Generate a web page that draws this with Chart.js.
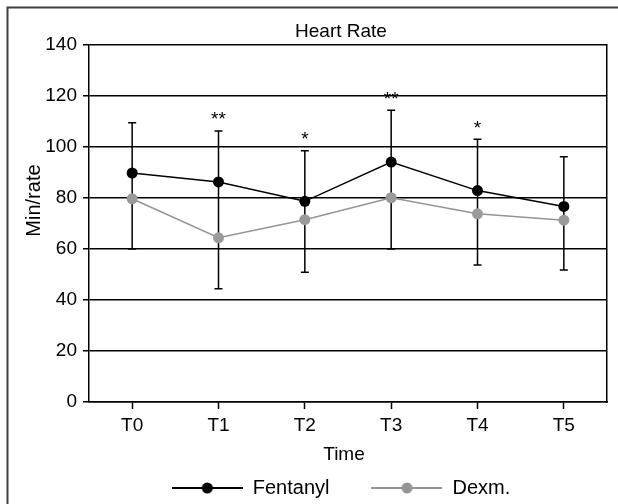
<!DOCTYPE html>
<html lang="en">
  <head>
    <meta charset="UTF-8" />
    <title>Heart Rate</title>
    <script src="https://cdn.jsdelivr.net/npm/chart.js"></script>
    <style>
      html, body { margin: 0; padding: 0; background: #fff; }
      #grafico { display: block; }
    </style>
  </head>
  <body>
    <canvas id="grafico" width="618" height="504"></canvas>

    <script>
      // dados
      const tempos = ["T0", "T1", "T2", "T3", "T4", "T5"];
      const fentanyl = [89.8, 86.3, 78.7, 94.1, 82.9, 76.7];
      const dexm = [79.7, 64.4, 71.5, 80.1, 73.8, 71.3];
      const erroAlto = [109.5, 106.3, 98.5, 114.4, 103, 96.2];
      const erroBaixo = [60, 44.4, 50.9, 60, 53.7, 51.8];
      const significancia = ["", "**", "*", "**", "*", ""];
      const ticksY = [0, 20, 40, 60, 80, 100, 120, 140];

      const fonte = "'Liberation Sans', Arial, sans-serif";
      Chart.defaults.font.family = fonte;
      Chart.defaults.color = "#000";

      // simbolo da legenda: linha com bolinha no meio
      function marcador(cor) {
        const c = document.createElement("canvas");
        c.width = 71;
        c.height = 14;
        const g = c.getContext("2d");
        g.strokeStyle = cor;
        g.lineWidth = 2;
        g.beginPath();
        g.moveTo(0, 7);
        g.lineTo(71, 7);
        g.stroke();
        g.fillStyle = cor;
        g.beginPath();
        g.arc(35.5, 7, 5.5, 0, Math.PI * 2);
        g.fill();
        return c;
      }
      const marcadores = [marcador("#000"), marcador("#949494")];

      const extras = {
        id: "extras",
        beforeDraw(chart) {
          // moldura da figura (so em cima e a esquerda)
          const ctx = chart.ctx;
          ctx.save();
          ctx.strokeStyle = "#404040";
          ctx.lineWidth = 2;
          ctx.beginPath();
          ctx.moveTo(7.5, 504);
          ctx.lineTo(7.5, 7.5);
          ctx.lineTo(618, 7.5);
          ctx.stroke();
          ctx.restore();
        },
        beforeDatasetsDraw(chart) {
          // barras de erro
          const ctx = chart.ctx;
          const x = chart.scales.x;
          const y = chart.scales.y;
          ctx.save();
          ctx.strokeStyle = "#000";
          ctx.lineWidth = 1.5;
          for (let i = 0; i < tempos.length; i++) {
            const px = x.getPixelForValue(i);
            const yA = y.getPixelForValue(erroAlto[i]);
            const yB = y.getPixelForValue(erroBaixo[i]);
            ctx.beginPath();
            ctx.moveTo(px, yA);
            ctx.lineTo(px, yB);
            ctx.moveTo(px - 4, yA);
            ctx.lineTo(px + 4, yA);
            ctx.moveTo(px - 4, yB);
            ctx.lineTo(px + 4, yB);
            ctx.stroke();
          }
          ctx.restore();
        },
        afterDatasetsDraw(chart) {
          const ctx = chart.ctx;
          const a = chart.chartArea;
          const x = chart.scales.x;
          const y = chart.scales.y;
          ctx.save();
          ctx.fillStyle = "#000";
          ctx.textAlign = "center";
          ctx.textBaseline = "middle";
          ctx.font = "19px " + fonte;
          for (let i = 0; i < tempos.length; i++) {
            if (!significancia[i]) continue;
            ctx.fillText(significancia[i], x.getPixelForValue(i), y.getPixelForValue(erroAlto[i]) - 11);
          }
          // titulos dos eixos
          ctx.fillText("Time", (a.left + a.right) / 2 - 4, 455);
          ctx.translate(34, y.getPixelForValue(79));
          ctx.rotate(-Math.PI / 2);
          ctx.font = "20px " + fonte;
          ctx.fillText("Min/rate", 0, 0);
          ctx.restore();
        }
      };

      new Chart(document.getElementById("grafico"), {
        type: "line",
        data: {
          labels: tempos,
          datasets: [
            {
              label: "Fentanyl",
              data: fentanyl,
              borderColor: "#000",
              backgroundColor: "#000",
              borderWidth: 1.5,
              pointRadius: 5.5,
              pointBorderWidth: 0,
              pointBackgroundColor: "#000"
            },
            {
              label: "Dexm.",
              data: dexm,
              borderColor: "#949494",
              backgroundColor: "#949494",
              borderWidth: 1.5,
              pointRadius: 5.5,
              pointBorderWidth: 0,
              pointBackgroundColor: "#9a9a9a"
            }
          ]
        },
        options: {
          responsive: false,
          animation: false,
          devicePixelRatio: 1,
          layout: { padding: { left: 40, right: -24, top: 0, bottom: -4 } },
          plugins: {
            tooltip: { enabled: false },
            title: {
              display: true,
              text: "Heart Rate",
              color: "#000",
              font: { size: 19, weight: "normal", lineHeight: 1 },
              padding: { top: 22, bottom: 4 }
            },
            legend: {
              position: "bottom",
              labels: {
                usePointStyle: true,
                pointStyleWidth: 71,
                padding: 42,
                color: "#000",
                font: { size: 20 },
                generateLabels(chart) {
                  const itens = Chart.defaults.plugins.legend.labels.generateLabels(chart);
                  itens.forEach((it, i) => { it.pointStyle = marcadores[i]; });
                  return itens;
                }
              }
            }
          },
          scales: {
            x: {
              offset: true,
              afterFit(s) { s.height = 34; },
              grid: {
                drawOnChartArea: false,
                drawTicks: true,
                tickLength: 7,
                tickColor: "#000",
                tickWidth: 1.5
              },
              border: { color: "#000", width: 1.5 },
              ticks: { font: { size: 19 }, padding: 5, color: "#000" }
            },
            y: {
              min: 0,
              max: 140,
              afterFit(s) { s.width = 49; },
              afterBuildTicks(s) { s.ticks = ticksY.map(v => ({ value: v })); },
              grid: {
                color: "#000",
                lineWidth: 1.5,
                tickLength: 6,
                tickColor: "#000"
              },
              border: { color: "#000", width: 1.5 },
              ticks: { font: { size: 19 }, padding: 6, color: "#000" }
            },
            // eixo vazio do lado direito, so para fechar a caixa
            direita: {
              type: "linear",
              position: "right",
              min: 0,
              max: 140,
              afterFit(s) { s.width = 35; },
              grid: { drawOnChartArea: false, drawTicks: false },
              border: { color: "#000", width: 1.5 },
              ticks: { display: false }
            }
          }
        },
        plugins: [extras]
      });
    </script>
  </body>
</html>
